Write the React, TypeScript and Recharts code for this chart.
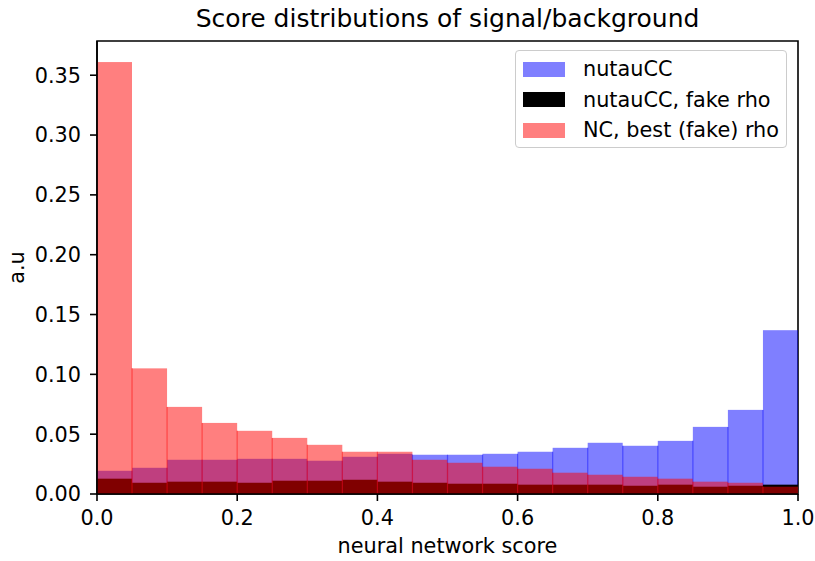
import React from 'react';
import {
  BarChart,
  Bar,
  XAxis,
  YAxis,
  Legend,
  Label,
  ReferenceArea
} from 'recharts';

// bin centres of the 20 histogram bins (0..1, width 0.05)
const BIN_CENTERS = [
  0.025, 0.075, 0.125, 0.175, 0.225, 0.275, 0.325, 0.375, 0.425, 0.475,
  0.525, 0.575, 0.625, 0.675, 0.725, 0.775, 0.825, 0.875, 0.925, 0.975
];

const NUTAU_CC = [
  0.0194, 0.0219, 0.0286, 0.0286, 0.0294, 0.0294, 0.0278, 0.0311, 0.0336, 0.0328,
  0.0328, 0.0336, 0.0353, 0.0386, 0.0428, 0.0403, 0.0444, 0.0561, 0.0703, 0.1369
];

const NUTAU_FAKE_RHO = [
  0.0128, 0.0094, 0.0103, 0.0103, 0.0094, 0.0111, 0.0111, 0.0119, 0.0103, 0.0094,
  0.0086, 0.0086, 0.0078, 0.0078, 0.0078, 0.0069, 0.0078, 0.0061, 0.0069, 0.0078
];

const NC_FAKE_RHO = [
  0.361, 0.105, 0.0728, 0.0594, 0.0528, 0.0469, 0.0411, 0.0353, 0.0353, 0.0286,
  0.0261, 0.0228, 0.0211, 0.0178, 0.0161, 0.0144, 0.0128, 0.0103, 0.0094, 0.0061
];

const X_TICKS = [0, 0.2, 0.4, 0.6, 0.8, 1.0];
const Y_TICKS = [0, 0.05, 0.1, 0.15, 0.2, 0.25, 0.3, 0.35];
const Y_MAX = 0.3786;

const SERIES = [
  { key: 'nutau', name: 'nutauCC', color: '#0000ff', opacity: 0.5, values: NUTAU_CC },
  { key: 'fake', name: 'nutauCC, fake rho', color: '#000000', opacity: 1, values: NUTAU_FAKE_RHO },
  { key: 'nc', name: 'NC, best (fake) rho', color: '#ff0000', opacity: 0.5, values: NC_FAKE_RHO }
];

const DATA = BIN_CENTERS.map((c, i) => ({
  center: c,
  nutau: NUTAU_CC[i],
  fake: NUTAU_FAKE_RHO[i],
  nc: NC_FAKE_RHO[i]
}));

const FONT = '"DejaVu Sans", sans-serif';
const FS = 20.8;

// bar with the faint darker seam matplotlib leaves between adjacent alpha bars
const makeShape = (color: string, opacity: number, values: number[]) => (props: any) => {
  const { x, y, width, height, index } = props;
  if (!height || height <= 0) return <g />;
  const v = values[index];
  const prev = index > 0 ? values[index - 1] : 0;
  const edge = opacity < 1 && prev > 0 ? height * Math.min(1, prev / v) : 0;
  const bottom = y + height;
  return (
    <g>
      <rect x={x} y={y} width={width} height={height} fill={color} fillOpacity={opacity} />
      {edge > 0 && (
        <line x1={x} x2={x} y1={bottom - edge} y2={bottom} stroke={color} strokeOpacity={0.5} strokeWidth={1.2} />
      )}
    </g>
  );
};

const LegendBox = () => (
  <div
    style={{
      width: 272,
      height: 98,
      boxSizing: 'border-box',
      border: '1.6px solid #cccccc',
      borderRadius: 4,
      background: 'rgba(255,255,255,0.8)',
      padding: '3px 0 0 7px',
      fontFamily: FONT,
      fontSize: FS,
      color: '#000'
    }}
  >
    {SERIES.map((s) => (
      <div key={s.key} style={{ display: 'flex', alignItems: 'center', height: 30.5 }}>
        <div style={{ width: 42, height: 15, background: s.color, opacity: s.opacity }} />
        <span style={{ marginLeft: 18, whiteSpace: 'nowrap' }}>{s.name}</span>
      </div>
    ))}
  </div>
);

const YLabel = (props: any) => {
  const vb = props.viewBox || {};
  const cy = vb.y + vb.height / 2;
  return (
    <text
      x={24}
      y={cy}
      transform={`rotate(-90, 24, ${cy})`}
      textAnchor="middle"
      fontFamily={FONT}
      fontSize={FS}
      fill="#000"
    >
      a.u
    </text>
  );
};

const tickStyle = { fill: '#000', fontSize: FS, fontFamily: FONT };

const App: React.FC = () => {
  return (
    <div style={{ position: 'absolute', left: 0, top: 0, width: 815, height: 561, background: '#fff' }}>
      <div
        style={{
          position: 'absolute',
          left: 97,
          width: 701,
          top: 4,
          textAlign: 'center',
          fontFamily: FONT,
          fontSize: 25,
          lineHeight: '30px',
          color: '#000'
        }}
      >
        Score distributions of signal/background
      </div>
      <BarChart
        width={815}
        height={561}
        data={DATA}
        margin={{ top: 41, right: 17, left: 0, bottom: 0 }}
        barCategoryGap={0}
        barGap={0}
      >
        <XAxis
          xAxisId="x0"
          dataKey="center"
          type="number"
          domain={[0, 1]}
          ticks={X_TICKS}
          allowDataOverflow
          tickFormatter={(t: number) => t.toFixed(1)}
          height={67}
          tick={tickStyle}
          tickSize={7}
          tickMargin={9}
          axisLine={{ stroke: '#000', strokeWidth: 1.6 }}
          tickLine={{ stroke: '#000', strokeWidth: 1.6 }}
        >
          <Label
            value="neural network score"
            position="insideBottom"
            offset={8}
            style={{ fill: '#000', fontSize: FS, fontFamily: FONT }}
          />
        </XAxis>
        <XAxis xAxisId="x1" dataKey="center" type="number" domain={[0, 1]} allowDataOverflow hide />
        <XAxis xAxisId="x2" dataKey="center" type="number" domain={[0, 1]} allowDataOverflow hide />
        <YAxis
          type="number"
          domain={[0, Y_MAX]}
          ticks={Y_TICKS}
          allowDataOverflow
          tickFormatter={(t: number) => t.toFixed(2)}
          width={97}
          tick={tickStyle}
          tickSize={7}
          tickMargin={9}
          axisLine={{ stroke: '#000', strokeWidth: 1.6 }}
          tickLine={{ stroke: '#000', strokeWidth: 1.6 }}
        >
          <Label content={<YLabel />} />
        </YAxis>
        {SERIES.map((s, i) => (
          <Bar
            key={s.key}
            xAxisId={`x${i}`}
            dataKey={s.key}
            name={s.name}
            fill={s.color}
            isAnimationActive={false}
            shape={makeShape(s.color, s.opacity, s.values)}
          />
        ))}
        <ReferenceArea
          xAxisId="x0"
          x1={0}
          x2={1}
          y1={0}
          y2={Y_MAX}
          fill="none"
          stroke="#000"
          strokeWidth={1.6}
          ifOverflow="visible"
        />
        <Legend
          layout="vertical"
          align="center"
          verticalAlign="middle"
          content={<LegendBox />}
          wrapperStyle={{ position: 'absolute', left: 515, top: 50, width: 272 }}
        />
      </BarChart>
    </div>
  );
};

export default App;
